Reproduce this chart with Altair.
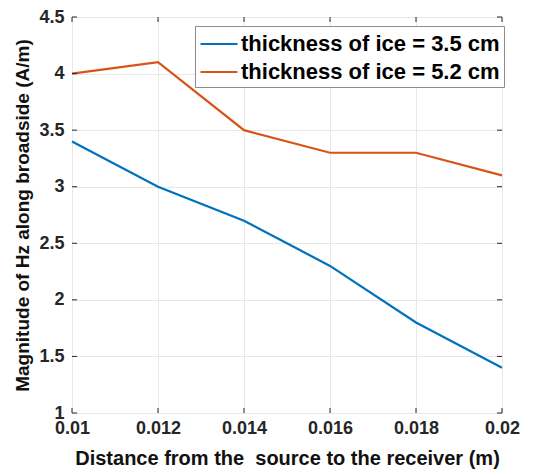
import altair as alt
import pandas as pd

distance = [0.010, 0.012, 0.014, 0.016, 0.018, 0.020]
hz_35cm = [3.4, 3.0, 2.7, 2.3, 1.8, 1.4]
hz_52cm = [4.0, 4.1, 3.5, 3.3, 3.3, 3.1]
series_names = ["thickness of ice = 3.5 cm", "thickness of ice = 5.2 cm"]
series_colors = ["#0072BD", "#D95319"]
x_ticks = [0.010, 0.012, 0.014, 0.016, 0.018, 0.020]
y_ticks = [1, 1.5, 2, 2.5, 3, 3.5, 4, 4.5]

df = pd.concat([
    pd.DataFrame({"d": distance, "h": hz_35cm, "s": series_names[0]}),
    pd.DataFrame({"d": distance, "h": hz_52cm, "s": series_names[1]}),
])

W, H = 430, 396
FONT = "Liberation Sans"
TXT = "#262626"
axis_style = dict(
    grid=True, ticks=False, domain=False, gridColor="#e8e8e8", gridWidth=1,
    labelFont=FONT, labelFontSize=18, labelFontWeight="bold", labelColor=TXT,
    labelFlush=False,
    titleFont=FONT, titleFontWeight="bold", titleColor="#111111",
)

xs = alt.Scale(domain=[0.01, 0.02], nice=False, zero=False)
ys = alt.Scale(domain=[1, 4.5], nice=False, zero=False)
x_axis = alt.Axis(values=x_ticks, labelExpr="format(datum.value, '.3~f')",
                  title="Distance from the\u00a0 source to the receiver (m)",
                  titleFontSize=20, labelPadding=6, titlePadding=11, **axis_style)
y_axis = alt.Axis(values=y_ticks, labelExpr="format(datum.value, '.2~f')",
                  title="Magnitude of Hz along broadside (A/m)",
                  titleFontSize=19, labelPadding=8, titlePadding=6, **axis_style)

# legend key: a short horizontal stroke drawn as a custom symbol path
lines = alt.Chart(df).mark_line(strokeWidth=2.2).encode(
    x=alt.X("d:Q", scale=xs, axis=x_axis),
    y=alt.Y("h:Q", scale=ys, axis=y_axis),
    color=alt.Color("s:N", scale=alt.Scale(domain=series_names, range=series_colors),
                    legend=alt.Legend(title=None, orient="none", legendX=123, legendY=9,
                                      symbolType="M-1,0H1.96", symbolSize=625,
                                      symbolStrokeWidth=2.2,
                                      labelFont=FONT, labelFontSize=22, labelFontWeight="bold",
                                      labelColor="#000000", labelOffset=14, labelLimit=400,
                                      strokeColor="#8c8c8c", fillColor="white",
                                      padding=4, rowPadding=3)),
)

# small inward tick marks on all four sides of the box
xt = pd.DataFrame({"d": x_ticks})
yt = pd.DataFrame({"h": y_ticks})
xb = alt.Chart(xt).mark_rule(color=TXT, strokeWidth=1).encode(
    x=alt.X("d:Q", scale=xs, axis=x_axis), y=alt.value(H), y2=alt.value(H - 5))
xtop = alt.Chart(xt).mark_rule(color=TXT, strokeWidth=1).encode(
    x=alt.X("d:Q", scale=xs, axis=x_axis), y=alt.value(0), y2=alt.value(5))
yl = alt.Chart(yt).mark_rule(color=TXT, strokeWidth=1).encode(
    y=alt.Y("h:Q", scale=ys, axis=y_axis), x=alt.value(0), x2=alt.value(5))
yr = alt.Chart(yt).mark_rule(color=TXT, strokeWidth=1).encode(
    y=alt.Y("h:Q", scale=ys, axis=y_axis), x=alt.value(W), x2=alt.value(W - 5))

chart = alt.layer(lines, xb, xtop, yl, yr).properties(
    width=W, height=H,
    padding={"left": 72, "top": 17, "right": 32, "bottom": 61},
    autosize=alt.AutoSizeParams(type="none"),
).configure_view(
    stroke=TXT, strokeWidth=1
).configure(background="white")

chart.save("out.html", embed_options={"renderer": "svg", "actions": False})
